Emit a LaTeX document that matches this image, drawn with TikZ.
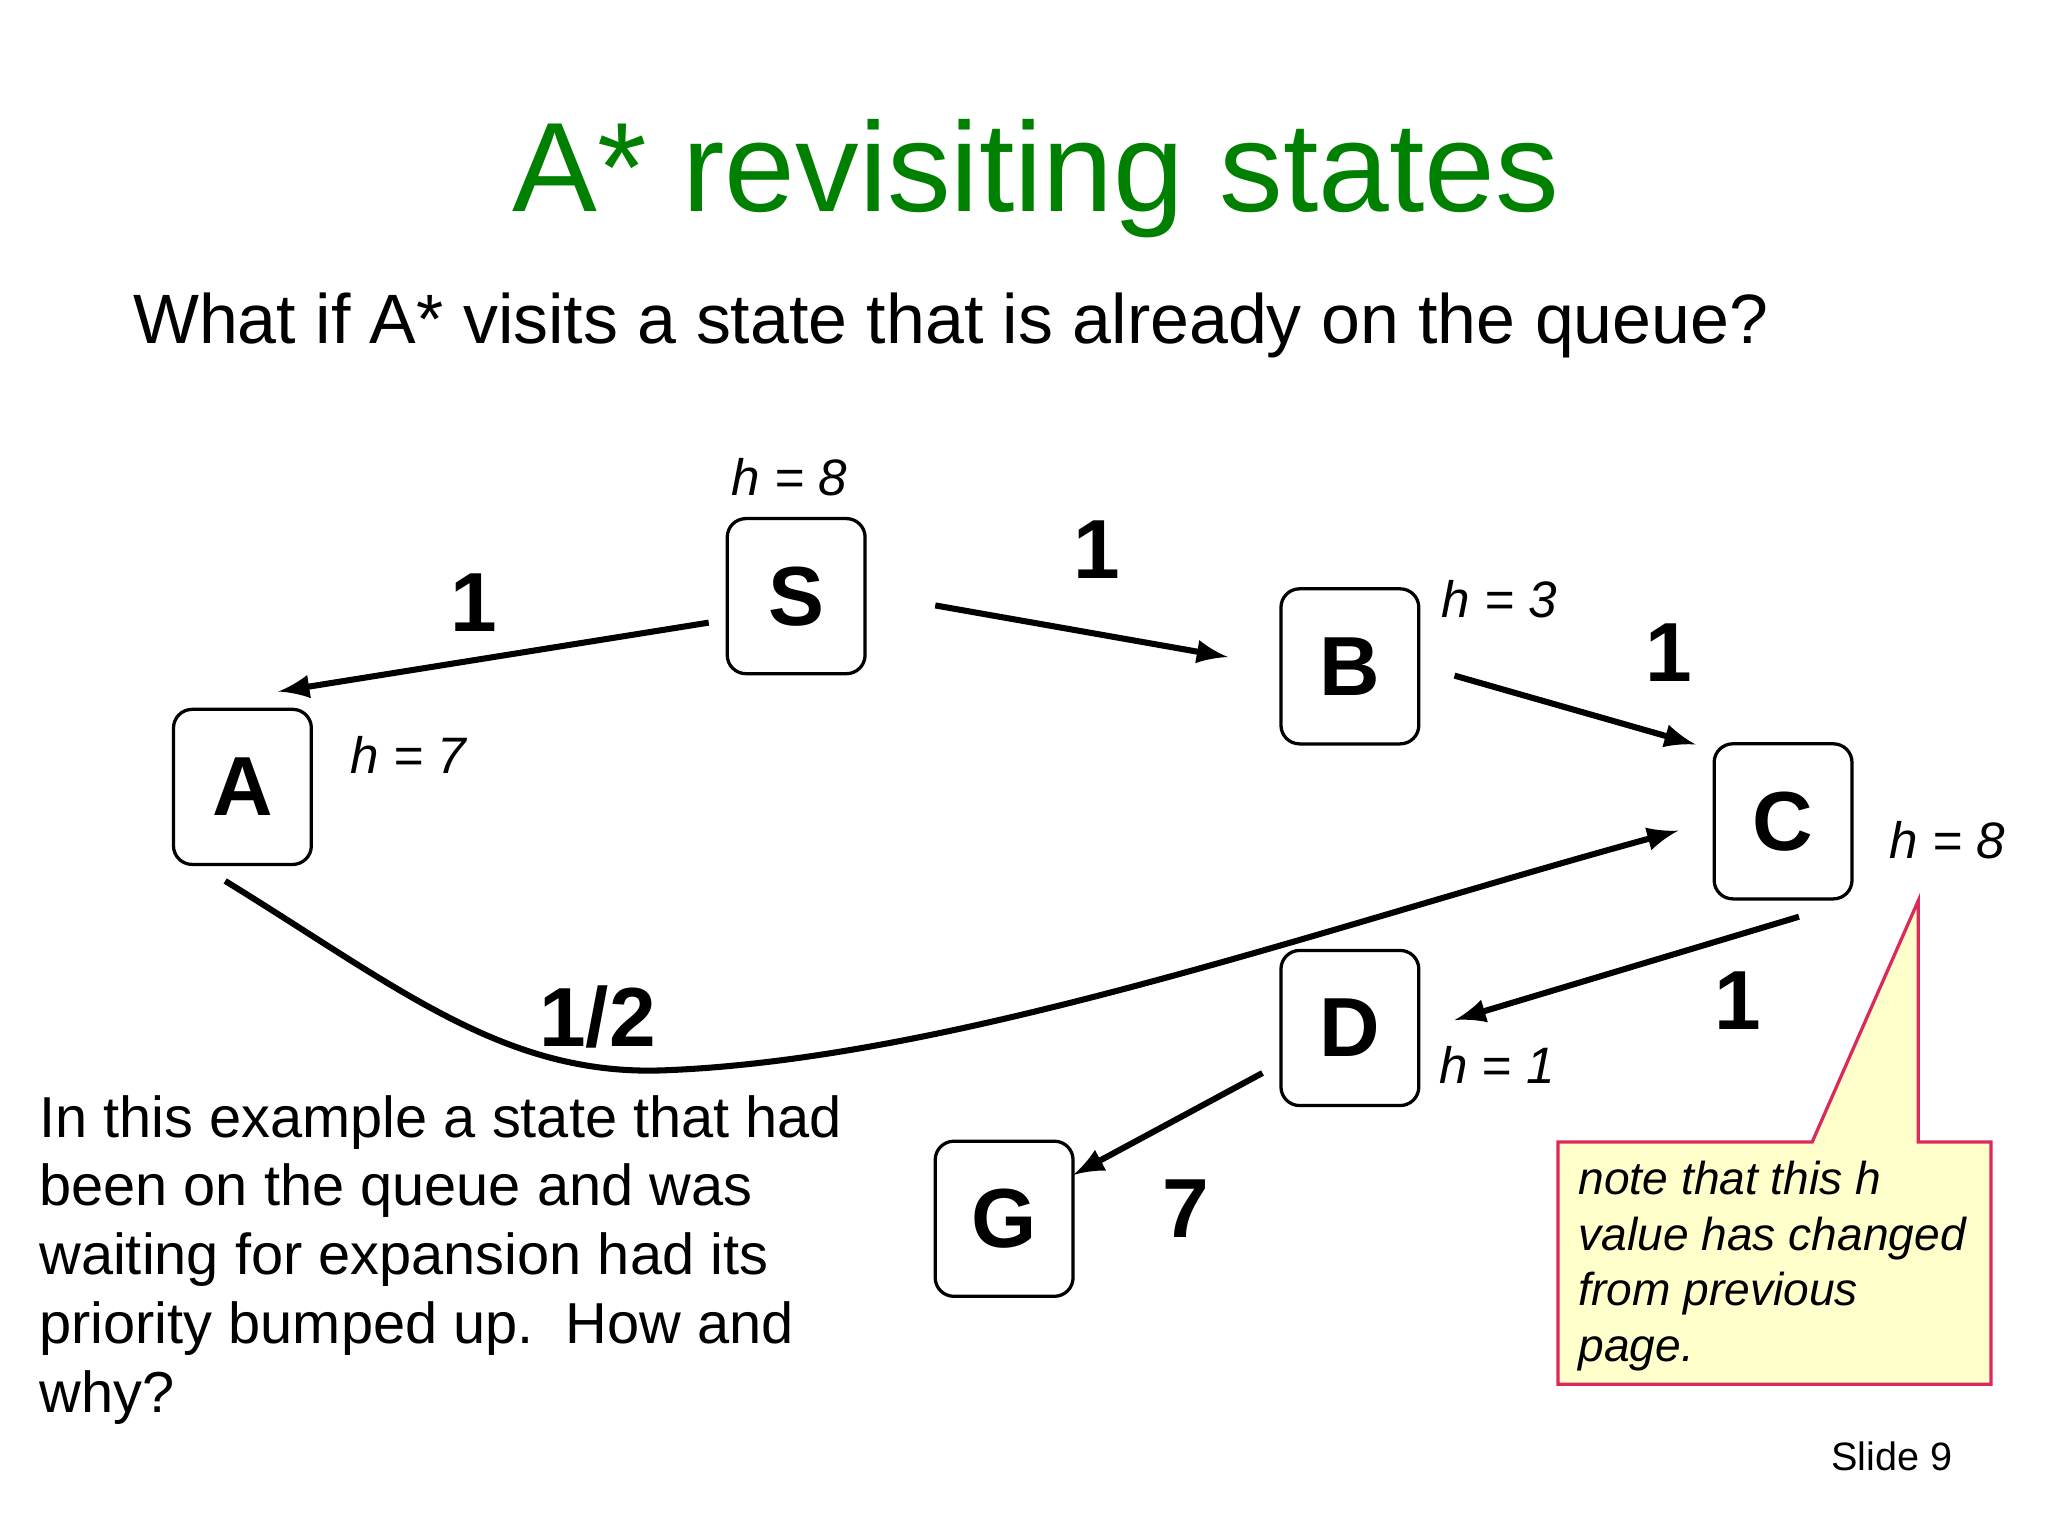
\documentclass[tikz,border=0pt]{standalone}
\usepackage{fontspec}
\setmainfont{Liberation Sans}
\definecolor{titlegreen}{RGB}{0,128,0}
\definecolor{noteyellow}{RGB}{255,255,204}
\definecolor{notered}{RGB}{220,40,90}
\begin{document}
\begin{tikzpicture}[x=0.01cm,y=-0.01cm,
  st/.style={draw,rounded corners=4pt,minimum width=1.04cm,minimum height=1.17cm,font=\fontsize{18}{20}\selectfont\bfseries,line width=0.7pt},
  edge/.style={-latex,line width=1.3pt},
  wt/.style={font=\fontsize{18}{20}\selectfont\bfseries},
  hl/.style={font=\fontsize{11}{13}\selectfont\itshape}]
\useasboundingbox (0,0) rectangle (1546,1160);
\node[text=titlegreen,font=\fontsize{27.3}{31}\selectfont] (title) at (782,135) {A* revisiting states};
\node[anchor=west,font=\fontsize{15}{18}\selectfont] (sub) at (88,246) {What if A* visits a state that is already on the queue?};
\node[st] (S) at (601,450) {S};
\node[st] (A) at (183,594) {A};
\node[st] (B) at (1019,503) {B};
\node[st] (C) at (1346,620) {C};
\node[st] (D) at (1019,776) {D};
\node[st] (G) at (758,920) {G};
\coordinate (sa1) at (535,470); \coordinate (sa2) at (210,522);
\coordinate (sb1) at (706,457); \coordinate (sb2) at (927,496);
\coordinate (bc1) at (1098,510); \coordinate (bc2) at (1280,562);
\coordinate (cd1) at (1358,692); \coordinate (cd2) at (1098,770);
\coordinate (dg1) at (953,810); \coordinate (dg2) at (810,887);
\coordinate (ac1) at (170,665); \coordinate (acm) at (500,808); \coordinate (ac2) at (1267,627);
\draw[edge] (sa1) -- (sa2);
\draw[edge] (sb1) -- (sb2);
\draw[edge] (bc1) -- (bc2);
\draw[edge] (cd1) -- (cd2);
\draw[edge] (dg1) -- (dg2);
\draw[edge] (ac1) .. controls (300,745) and (380,812) .. (acm) .. controls (720,800) and (1000,700) .. (ac2);
\node[wt] (w1) at (358,455) {1};
\node[wt] (w2) at (828,415) {1};
\node[wt] (w3) at (1260,493) {1};
\node[wt] (w4) at (1312,755) {1};
\node[wt] (w5) at (451,768) {1/2};
\node[wt] (w6) at (895,912) {7};
\node[hl] (hS) at (596,360) {h = 8};
\node[hl] (hA) at (308,570) {h = 7};
\node[hl] (hB) at (1132,452) {h = 3};
\node[hl] (hC) at (1470,634) {h = 8};
\node[hl] (hD) at (1130,804) {h = 1};
\node[anchor=north west,align=left,inner sep=0pt,font=\fontsize{12.4}{14.8}\selectfont] (body) at (29,826)
 {In this example a state that had\\been on the queue and was\\waiting for expansion had its\\priority bumped up.\ \ How and\\why?};
\draw[fill=noteyellow,draw=notered,line width=0.7pt] (1176,862) -- (1368,862) -- (1448,680) -- (1448,862) -- (1503,862) -- (1503,1045) -- (1176,1045) -- cycle;
\node[anchor=north west,align=left,inner sep=0pt,font=\fontsize{9.9}{11.9}\selectfont\itshape] (note) at (1191,876)
 {note that this h\\value has changed\\from previous\\page.};
\node[font=\fontsize{8.5}{10}\selectfont] (slide) at (1428,1099) {Slide 9};
\end{tikzpicture}
\end{document}
